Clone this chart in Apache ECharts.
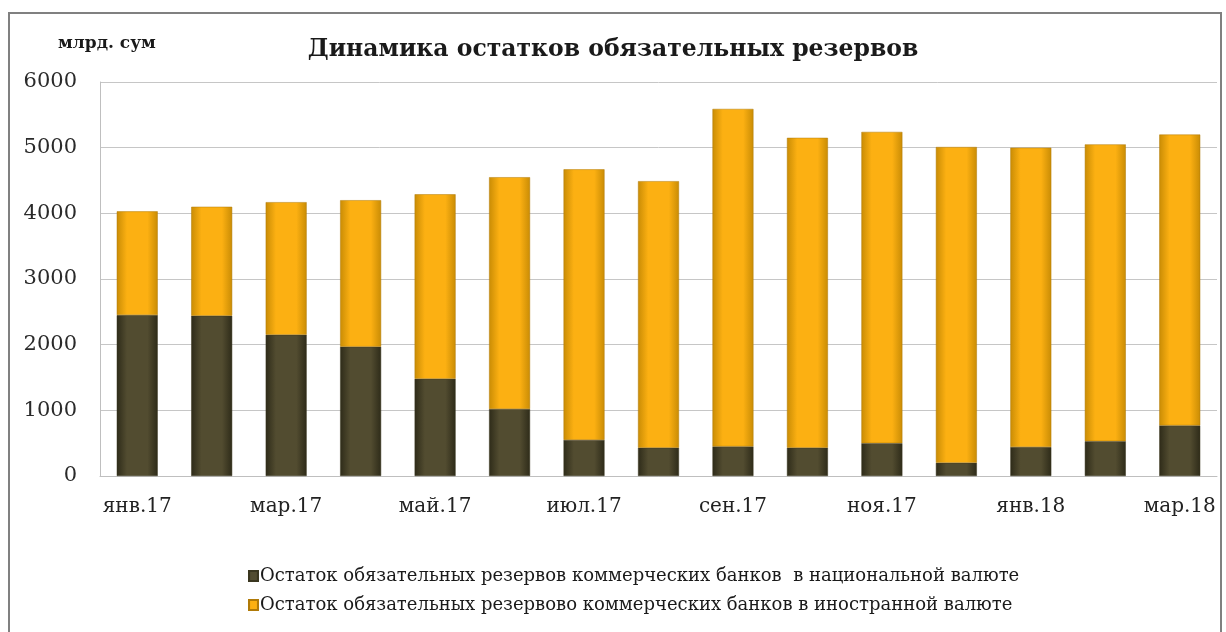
<!DOCTYPE html>
<html>
<head>
<meta charset="utf-8">
<script src="https://cdn.jsdelivr.net/npm/echarts@6/dist/echarts.min.js"></script>
<style>html,body{margin:0;padding:0;background:#fff;}#c{width:1226px;height:632px;}</style>
</head>
<body>
<div id="c"></div>
<script>
const categories = ['янв.17','фев.17','мар.17','апр.17','май.17','июн.17','июл.17','авг.17','сен.17','окт.17','ноя.17','дек.17','янв.18','фев.18','мар.18'];
const nationalValues = [2450, 2440, 2150, 1970, 1480, 1020, 550, 430, 450, 430, 500, 200, 440, 530, 770];
const foreignValues = [1580, 1660, 2020, 2230, 2810, 3530, 4120, 4060, 5140, 4720, 4740, 4810, 4560, 4520, 4430];
const yTicks = [0, 1000, 2000, 3000, 4000, 5000, 6000];
const seriesNames = ['Остаток обязательных резервов коммерческих банков  в национальной валюте', 'Остаток обязательных резервово коммерческих банков в иностранной валюте'];
const titleText = 'Динамика остатков обязательных резервов';
const unitText = 'млрд. сум';

const chart = echarts.init(document.getElementById('c'), null, {renderer: 'canvas'});
function grad(edge, mid) {
  return new echarts.graphic.LinearGradient(0, 0, 1, 0, [
    {offset: 0, color: edge}, {offset: 0.25, color: mid}, {offset: 0.75, color: mid}, {offset: 1, color: edge}
  ]);
}
const font = 'DejaVu Serif';
chart.setOption({
  backgroundColor: '#ffffff',
  animation: false,
  title: {
    text: titleText, left: 'center', top: 33,
    textStyle: {fontFamily: font, fontWeight: 'bold', fontSize: 23.5, color: '#1a1a1a'}
  },
  graphic: [
    {type: 'rect', shape: {x: 9, y: 13, width: 1212, height: 640}, style: {fill: 'none', stroke: '#808080', lineWidth: 2}, silent: true},
    {type: 'text', left: 58, top: 35, style: {text: unitText, font: 'bold 17px "DejaVu Serif"', fill: '#1a1a1a'}}
  ],
  legend: {
    orient: 'vertical', left: 243, top: 562, itemGap: 11, itemWidth: 9, itemHeight: 10,
    icon: 'rect',
    textStyle: {fontFamily: font, fontSize: 18, color: '#1a1a1a', padding: [0, 0, 0, -3]},
    data: seriesNames
  },
  grid: {left: 100, right: 9, top: 82, bottom: 156, containLabel: false},
  xAxis: {
    type: 'category', data: categories,
    axisLine: {show: true, lineStyle: {color: '#bfbfbf', width: 1}},
    axisTick: {show: false},
    axisLabel: {interval: 1, fontFamily: font, fontSize: 20, color: '#222', margin: 21}
  },
  yAxis: {
    type: 'value', min: 0, max: 6000, interval: 1000,
    axisLine: {show: true, lineStyle: {color: '#bfbfbf', width: 1}},
    axisTick: {show: false},
    axisLabel: {fontFamily: font, fontSize: 21, color: '#2a2a2a', margin: 23,
      formatter: v => yTicks.includes(v) ? String(v) : ''},
    splitLine: {show: true, lineStyle: {color: '#c6c6c6', width: 1}}
  },
  series: [
    {name: seriesNames[0], type: 'bar', stack: 't', barWidth: '55%', data: nationalValues,
      itemStyle: {color: grad('#2e2b19', '#524c30'), borderColor: '#3a361f', borderWidth: 0.5}},
    {name: seriesNames[1], type: 'bar', stack: 't', barWidth: '55%', data: foreignValues,
      itemStyle: {color: grad('#c98c05', '#fcb012'), borderColor: '#b07a08', borderWidth: 0.5}}
  ],
  color: ['#4f4a2f', '#fbb014']
});
</script>
</body>
</html>
